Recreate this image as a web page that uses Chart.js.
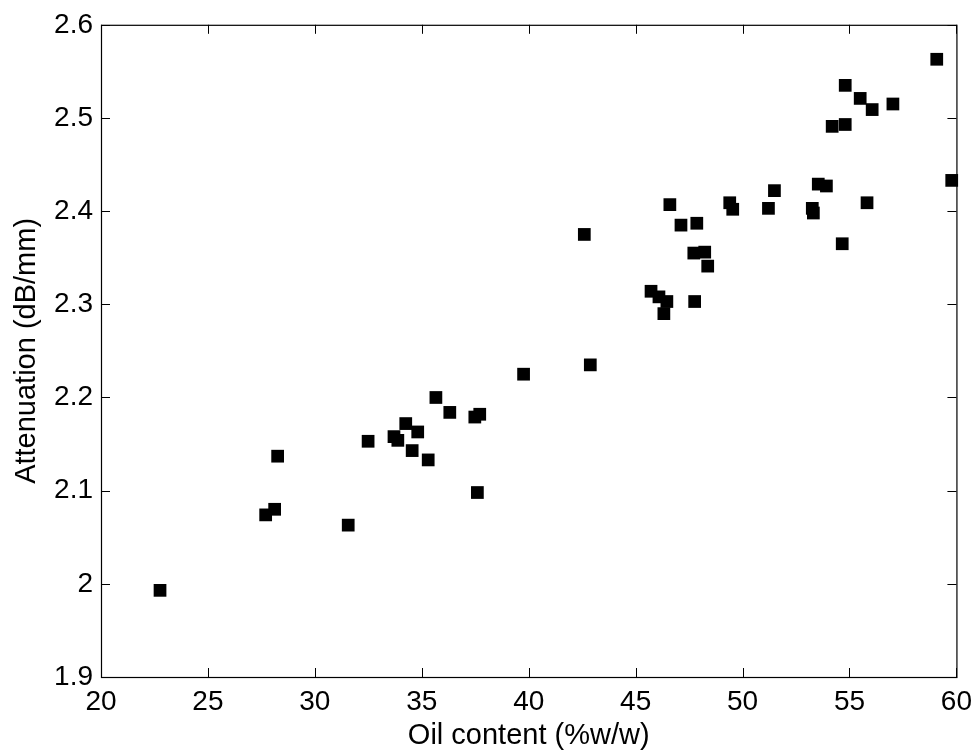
<!DOCTYPE html>
<html>
<head>
<meta charset="utf-8">
<script src="https://cdn.jsdelivr.net/npm/chart.js@4/dist/chart.umd.min.js"></script>
<style>
  html, body { margin: 0; padding: 0; background: #fff; }
  #wrap { width: 980px; height: 753px; }
</style>
</head>
<body>
<div id="wrap"><canvas id="chart"></canvas></div>
<script>
// oil content (%w/w)
const oilContent = [
    59.08, 54.80, 55.50, 56.06, 57.03, 54.19, 54.80, 59.78, 51.49, 53.54,
    53.92, 46.60, 49.40, 49.54, 51.21, 53.26, 53.31, 55.82, 47.12, 47.86,
    42.60, 54.66, 47.72, 48.23, 48.37, 45.72, 46.09, 46.46, 46.32, 47.76,
    42.88, 39.76, 35.66, 36.31, 37.48, 37.71, 34.25, 34.81, 32.49, 33.70,
    33.88, 34.55, 35.30, 28.26, 37.60, 28.12, 27.70, 31.56, 22.76
];
// attenuation (dB/mm)
const attenuation = [
    2.563, 2.535, 2.521, 2.509, 2.515, 2.491, 2.493, 2.433, 2.422, 2.429,
    2.427, 2.407, 2.409, 2.402, 2.403, 2.403, 2.398, 2.409, 2.385, 2.387,
    2.375, 2.365, 2.355, 2.356, 2.341, 2.314, 2.308, 2.303, 2.290, 2.303,
    2.235, 2.225, 2.200, 2.184, 2.179, 2.182, 2.172, 2.163, 2.153, 2.158,
    2.154, 2.143, 2.133, 2.137, 2.098, 2.080, 2.074, 2.063, 1.993
];
const xTicks = [20, 25, 30, 35, 40, 45, 50, 55, 60];
const yTicks = [1.9, 2.0, 2.1, 2.2, 2.3, 2.4, 2.5, 2.6];

const points = oilContent.map((x, i) => ({ x: x, y: attenuation[i] }));

// matlab style box with inward ticks on all four sides
const boxTicks = {
    id: 'boxTicks',
    afterDraw(chart) {
        const { ctx, chartArea: a, scales } = chart;
        const len = 9;
        ctx.save();
        ctx.strokeStyle = '#000';
        ctx.lineWidth = 1;
        ctx.beginPath();
        scales.x.ticks.forEach(t => {
            const px = Math.round(scales.x.getPixelForValue(t.value)) + 0.5;
            ctx.moveTo(px, a.bottom); ctx.lineTo(px, a.bottom - len);
            ctx.moveTo(px, a.top); ctx.lineTo(px, a.top + len);
        });
        scales.y.ticks.forEach(t => {
            const py = Math.round(scales.y.getPixelForValue(t.value)) + 0.5;
            ctx.moveTo(a.left, py); ctx.lineTo(a.left + len, py);
            ctx.moveTo(a.right, py); ctx.lineTo(a.right - len, py);
        });
        ctx.stroke();
        ctx.lineWidth = 1.2;
        ctx.strokeRect(a.left + 0.5, a.top + 0.5, a.right - a.left, a.bottom - a.top);
        ctx.restore();
    }
};

const family = "'Liberation Sans', Arial, sans-serif";
const tickFont = { family: family, size: 28 };
const titleFont = { family: family, size: 29 };

new Chart(document.getElementById('chart'), {
    type: 'scatter',
    data: {
        datasets: [{
            data: points,
            pointStyle: 'rect',
            pointRadius: 9,
            pointHoverRadius: 9,
            pointBorderWidth: 0,
            backgroundColor: '#000',
            borderColor: '#000',
            clip: false
        }]
    },
    options: {
        responsive: true,
        maintainAspectRatio: false,
        animation: false,
        events: [],
        layout: { padding: { top: 23, right: 20, left: 0, bottom: 0 } },
        plugins: {
            legend: { display: false },
            tooltip: { enabled: false }
        },
        scales: {
            x: {
                type: 'linear',
                min: 20,
                max: 60,
                afterBuildTicks: s => { s.ticks = xTicks.map(v => ({ value: v })); },
                afterFit: s => { s.height = 76; },
                grid: { display: false, drawTicks: false },
                border: { display: false },
                ticks: { color: '#000', font: tickFont, padding: 8, maxRotation: 0 },
                title: {
                    display: true,
                    text: 'Oil content (%w/w)',
                    color: '#000',
                    font: titleFont,
                    padding: { top: 0, bottom: 0 }
                }
            },
            y: {
                type: 'linear',
                min: 1.9,
                max: 2.6,
                afterBuildTicks: s => { s.ticks = yTicks.map(v => ({ value: v })); },
                afterFit: s => { s.width = 101; },
                grid: { display: false, drawTicks: false },
                border: { display: false },
                ticks: {
                    color: '#000',
                    font: tickFont,
                    padding: 8,
                    callback: v => String(Math.round(v * 10) / 10)
                },
                title: {
                    display: true,
                    text: 'Attenuation (dB/mm)',
                    color: '#000',
                    font: titleFont,
                    padding: { top: 10, bottom: 2 }
                }
            }
        }
    },
    plugins: [boxTicks]
});
</script>
</body>
</html>
